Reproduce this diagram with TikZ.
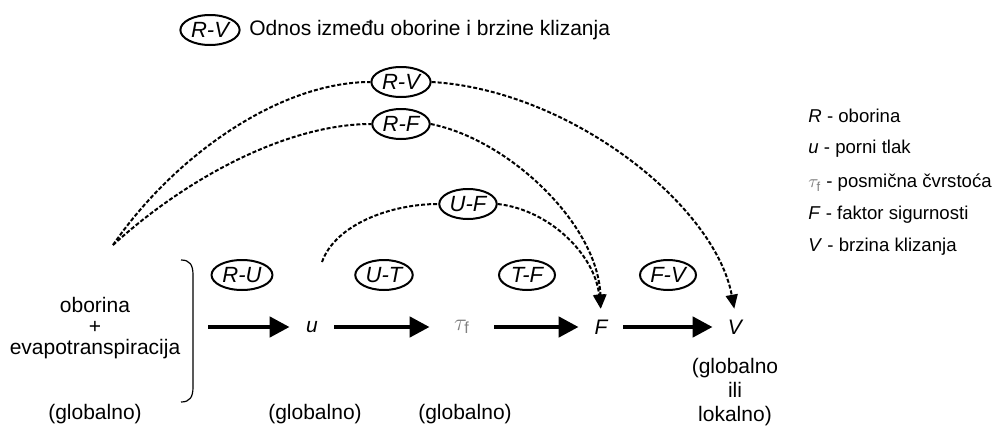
\documentclass[tikz,border=0pt]{standalone}
\usepackage{fontspec}
\setmainfont{Liberation Sans}
\usetikzlibrary{arrows.meta,shapes.geometric}

\begin{document}
\begin{tikzpicture}[x=0.5pt,y=0.5pt,
		font=\fontsize{10.5}{12}\selectfont,
		rel/.style={ellipse, draw, line width=1pt, inner sep=1pt, minimum width=28pt, minimum height=15pt, font=\fontsize{11}{12}\selectfont\itshape},
		var/.style={inner sep=0pt, minimum width=22pt, minimum height=14pt, font=\fontsize{10.5}{12}\selectfont\itshape},
		flow/.style={line width=2.3pt, -{Triangle[length=10pt,width=10pt]}},
		link/.style={line width=1pt, dash pattern=on 2pt off 1pt},
		linkarrow/.style={link, shorten >=2pt, -{Triangle[length=7pt,width=6pt]}},
		keyline/.style={anchor=west, inner sep=0pt, font=\fontsize{9.3}{11}\selectfont}]
		    \useasboundingbox (0,0) rectangle (998,425);
		    
		    % legend on top
		    \node [rel] (key) at (210,395) {R-V};
		    \node [anchor=west, inner sep=0pt] (keytext) at (249,395) {Odnos između oborine i brzine klizanja};
		    
		    % chain of variables
		    \node [align=center, font=\fontsize{10.5}{10.5}\selectfont] (rain) at (95,97) {oborina\\+\\evapotranspiracija};
		    \node [var] (u) at (312,98) {u};
		    \node [var, minimum width=32pt, text=gray, font=\fontsize{11.5}{12}\selectfont] (tau) at (462,98) {$\tau_{\mathrm{f}}$};
		    \node [var] (F) at (601,98) {F};
		    \node [var] (V) at (735,98) {V};
		    
		    \node (rainscale) at (95,11) {(globalno)};
		    \node (uscale) at (315,11) {(globalno)};
		    \node (tauscale) at (465,11) {(globalno)};
		    \node [align=center, font=\fontsize{10.5}{11.8}\selectfont] (Vscale) at (735,33) {(globalno\\ili\\lokalno)};
		    
		    % bracket
		    \draw [line width=0.6pt] (181,165) .. controls (190,165) and (193,160) .. (193,150) -- (193,38) .. controls (193,28) and (190,23) .. (181,23);
		    \coordinate (brace) at (208,98);
		    
			\draw [flow] (brace) -- (u);
			\draw [flow] (u) -- (tau);
			\draw [flow] (tau) -- (F);
			\draw [flow] (F) -- (V);
			
			\node [rel] (RU) at (242,150) {R-U};
			\node [rel] (UT) at (384,150) {U-T};
			\node [rel] (TF) at (527,150) {T-F};
			\node [rel] (FV) at (668,150) {F-V};
			
			% indirect relations
			\node [rel] (RV) at (401,343) {R-V};
			\node [rel] (RF) at (401,301) {R-F};
			\node [rel] (UF) at (468,221) {U-F};
			
			\coordinate (rstart) at (113,180);
			\coordinate (ustart) at (322,163);
			
			\draw [link] (rstart) .. controls (175,270) and (280,343) .. (RV.west);
			\draw [linkarrow] (RV.east) .. controls (570,335) and (715,220) .. (V.north);
			\draw [link] (rstart) .. controls (190,250) and (290,301) .. (RF.west);
			\draw [linkarrow] (RF.east) .. controls (510,285) and (598,200) .. (F.north);
			\draw [link] (ustart) .. controls (335,200) and (390,221) .. (UF.west);
			\draw [linkarrow] (UF.east) .. controls (550,215) and (595,170) .. (F.north);
			
			% list of symbols
			\node [keyline] (Rkey) at (808,309) {\textit{R} - oborina};
			\node [keyline] (ukey) at (808,276) {\textit{u} - porni tlak};
			\node [keyline] (taukey) at (808,242) {\textcolor{gray}{$\tau_{\mathrm{f}}$} - posmična čvrstoća};
			\node [keyline] (Fkey) at (808,210) {\textit{F} - faktor sigurnosti};
			\node [keyline] (Vkey) at (808,178) {\textit{V} - brzina klizanja};
		\end{tikzpicture}
\end{document}
